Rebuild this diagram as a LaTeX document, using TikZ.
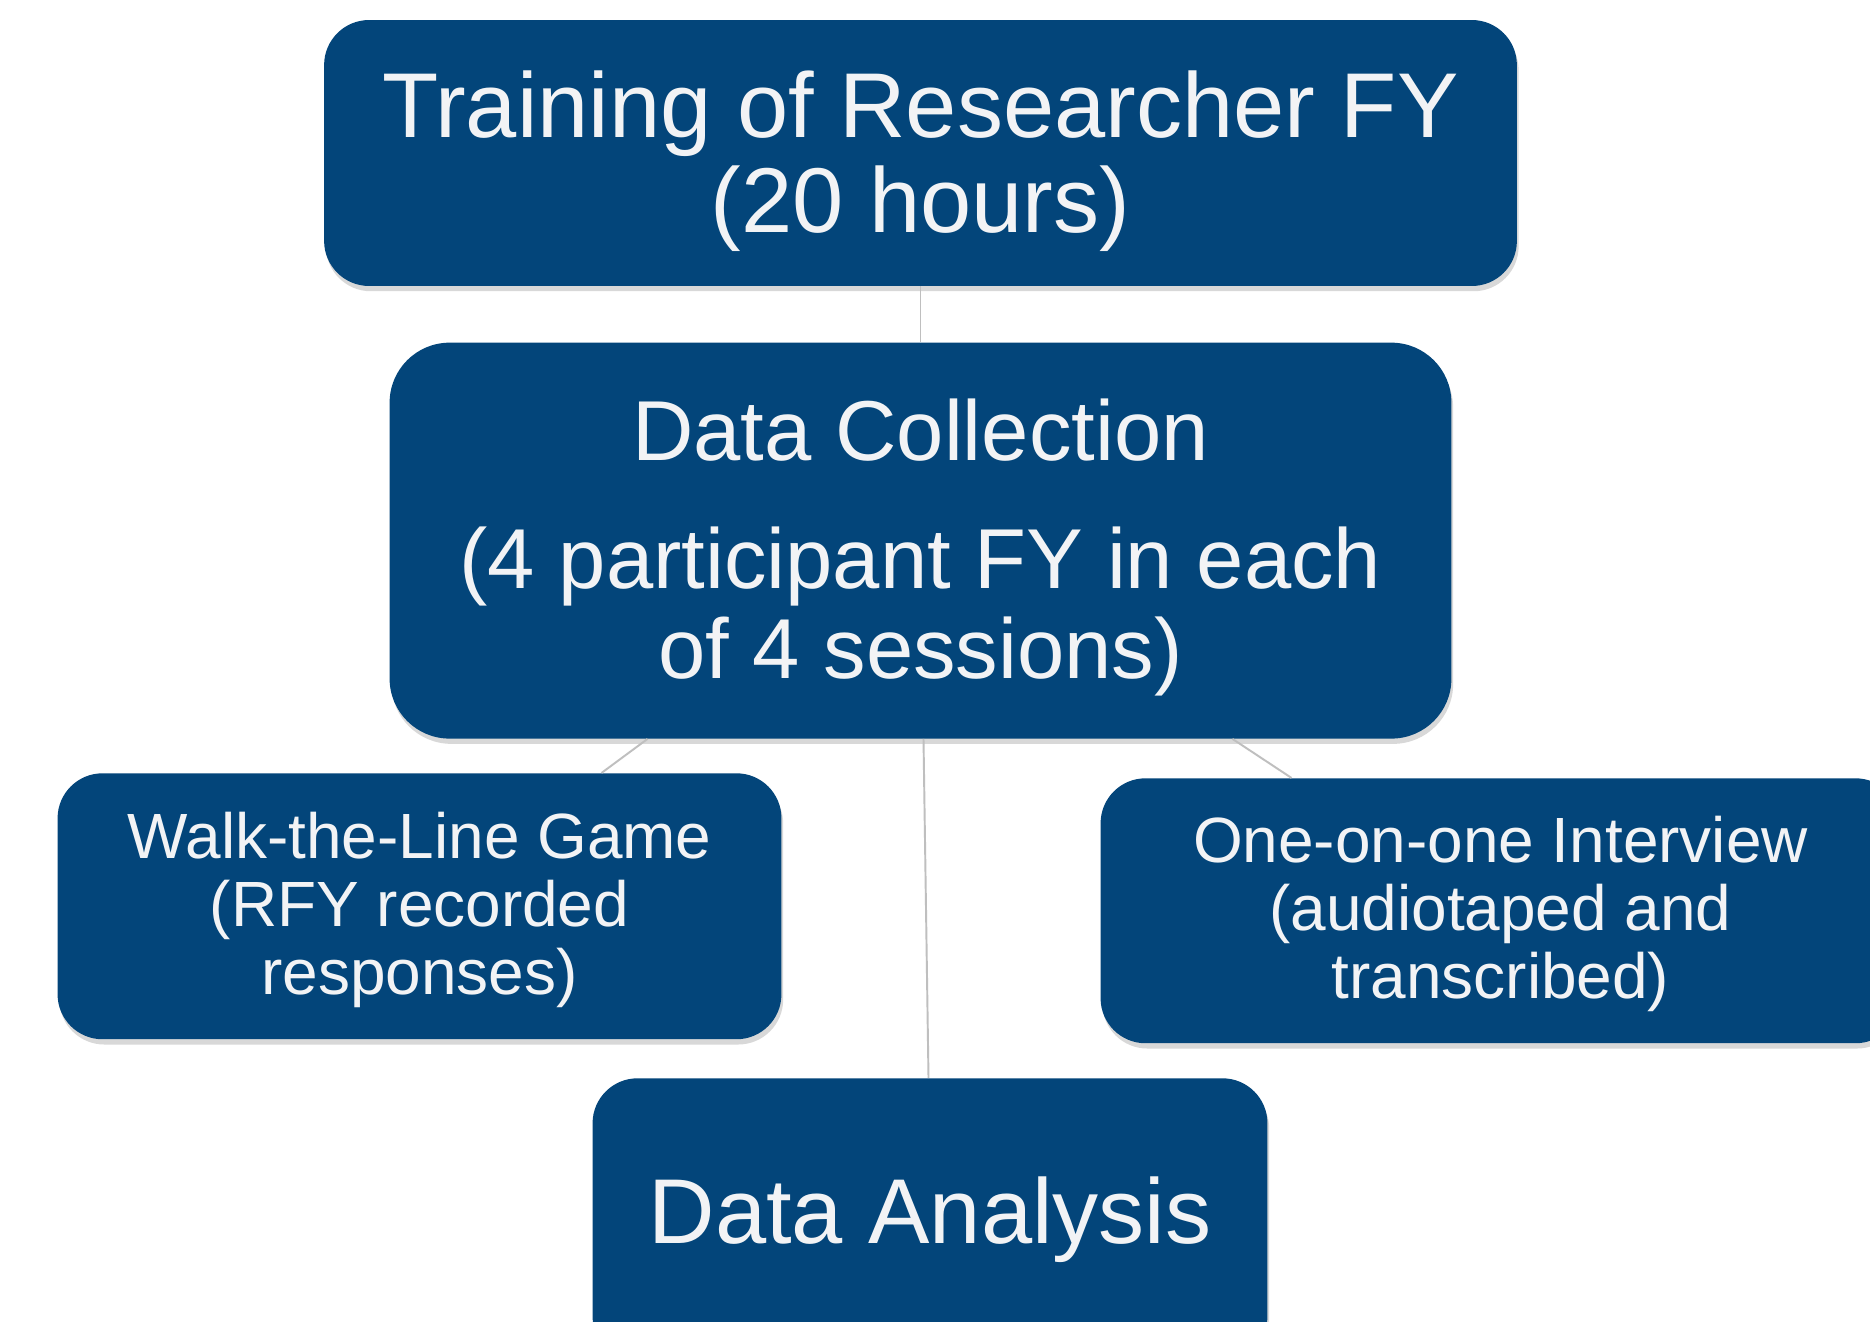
\documentclass[tikz,border=0pt]{standalone}
\usepackage{fontspec}
\setmainfont{Liberation Sans}
\usepackage{xcolor}
\usepackage{tikz}
\usetikzlibrary{positioning, calc, shadows}
\definecolor{flowblue}{HTML}{03457A}
\definecolor{flowtext}{HTML}{F2F3F5}

\begin{document}
\begin{tikzpicture}[
  x=0.02cm, y=-0.02cm,
  flowbox/.style={fill=flowblue, text=flowtext, align=center, inner sep=0pt,
    rounded corners=0.9cm,
    drop shadow={shadow xshift=1pt, shadow yshift=-3pt, opacity=0.25, fill=black!60}},
  bigtxt/.style={font=\fontsize{52.4}{54}\selectfont},
  midtxt/.style={font=\fontsize{48.4}{51.2}\selectfont},
  smalltxt/.style={font=\fontsize{36.4}{38.7}\selectfont, text depth=3.6pt},
  link/.style={draw=gray!50, line width=1.1pt},
]
\useasboundingbox (0,0) rectangle (1870,1322);
\fill[white] (0,0) rectangle (1870,1322);
\clip (0,0) rectangle (1870,1322);
% Stage 1: training
\node[flowbox, bigtxt, text depth=2pt, minimum width=23.86cm, minimum height=5.32cm] (train) at (920.5,153)
  {Training of Researcher FY\\(20 hours)};
% Stage 2: data collection
\node[flowbox, midtxt, text depth=2.3pt, rounded corners=1.2cm, minimum width=21.24cm, minimum height=7.92cm,
  below=1.12cm of train] (dc)
  {Data Collection\\[22pt](4 participant FY in each\\of 4 sessions)};
% the two collection methods
\node[flowbox, smalltxt, anchor=north, minimum width=14.48cm, minimum height=5.32cm] (walk)
  at ($(dc.south)+(-501,34)$) {Walk-the-Line Game\\(RFY recorded\\responses)};
\node[flowbox, smalltxt, anchor=north, minimum width=16cm, minimum height=5.3cm] (interview)
  at ($(dc.south)+(580,39)$) {One-on-one Interview\\(audiotaped and\\transcribed)};
% Stage 3: analysis
\node[flowbox, bigtxt, anchor=north, minimum width=13.5cm, minimum height=5.66cm] (analysis)
  at ($(dc.south)+(9.5,339)$) {Data Analysis};
\draw[link] (train.south) -- (dc.north);
\draw[link] ($(dc.south)+(-273,0)$) -- ($(walk.north)+(182,0)$);
\draw[link] ($(dc.south)+(3,0)$) -- ($(analysis.north)+(-1.5,0)$);
\draw[link] ($(dc.south)+(312,0)$) -- ($(interview.north)+(-209,0)$);
\end{tikzpicture}
\end{document}
